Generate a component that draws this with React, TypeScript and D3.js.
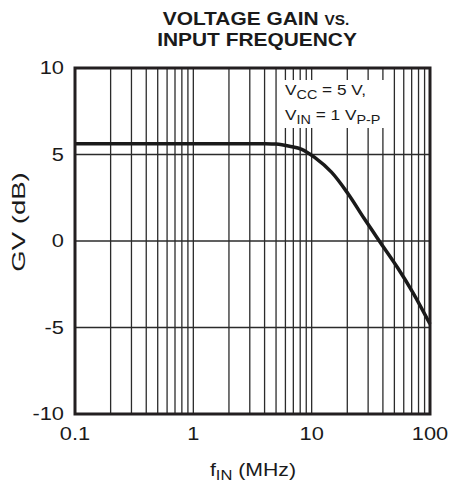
import React from 'react';
import * as d3 from 'd3';

const W = 450;
const H = 485;

const xDomain = [0.1, 100];
const yDomain = [-10, 10];
const xTickValues = [0.1, 1, 10, 100];
const xTickLabels = ['0.1', '1', '10', '100'];
const yTickValues = [-10, -5, 0, 5, 10];
const yTickLabels = ['-10', '-5', '0', '5', '10'];
const yGridValues = [-5, 0, 5];

const freqMHz = [0.1, 0.3, 1, 2, 3, 4, 5, 5.6, 6.5, 8.25, 10.6, 14.7, 20.3, 27.7, 38.3, 53.1, 72.1, 100];
const gainDb = [5.62, 5.62, 5.62, 5.62, 5.62, 5.62, 5.6, 5.56, 5.48, 5.3, 4.83, 3.98, 2.73, 1.31, -0.11, -1.53, -3.01, -4.8];

const FONT = '"Liberation Sans", Arial, Helvetica, sans-serif';
const INK = '#1a1a1a';

const plot = { left: 75, right: 430, top: 68, bottom: 414 };

function Txt(props: any) {
  const { x, y, sx = 1.18, rotate = 0, anchor = 'middle', size = 18, weight = 'normal', dy, children } = props;
  return (
    <text
      transform={`translate(${x},${y})${rotate ? ` rotate(${rotate})` : ''} scale(${sx},1)`}
      textAnchor={anchor}
      fontSize={size}
      fontWeight={weight}
      fontFamily={FONT}
      fill={INK}
      dy={dy}
    >
      {children}
    </text>
  );
}

export default function App() {
  const x = d3.scaleLog().domain(xDomain).range([plot.left, plot.right]);
  const y = d3.scaleLinear().domain(yDomain).range([plot.bottom, plot.top]);
  const xGrid = x.ticks().filter((v) => v > xDomain[0] * 1.0001 && v < xDomain[1] * 0.9999);

  const data = freqMHz.map((f, i) => [f, gainDb[i]] as [number, number]);
  const line = d3
    .line<[number, number]>()
    .x((d) => x(d[0]))
    .y((d) => y(d[1]))
    .curve(d3.curveCatmullRom.alpha(0.5));

  return (
    <svg width={W} height={H} style={{ position: 'absolute', left: 0, top: 0, background: '#fff' }}>
      {/* Title */}
      <Txt x={256} y={25} size={19} weight="bold" sx={1.1}>
        VOLTAGE GAIN <tspan fontSize={14}>VS.</tspan>
      </Txt>
      <Txt x={257} y={46} size={19} weight="bold" sx={1.1}>
        INPUT FREQUENCY
      </Txt>

      {/* Grid */}
      {xGrid.map((v) => (
        <line key={'xg' + v} x1={x(v)} x2={x(v)} y1={plot.top} y2={plot.bottom} stroke="#2b2b2b" strokeWidth={1.3} />
      ))}
      {yGridValues.map((v) => (
        <line key={'yg' + v} x1={plot.left} x2={plot.right} y1={y(v)} y2={y(v)} stroke="#2b2b2b" strokeWidth={1.3} />
      ))}

      {/* Annotation box */}
      <rect x={278} y={80} width={108} height={48} fill="#fff" />
      <Txt x={285} y={95} anchor="start" size={15} sx={1.15}>
        V<tspan fontSize={12.5} dy={4}>CC</tspan><tspan dy={-4}> = 5 V,</tspan>
      </Txt>
      <Txt x={285} y={120} anchor="start" size={15} sx={1.15}>
        V<tspan fontSize={12.5} dy={4}>IN</tspan><tspan dy={-4}> = 1 V</tspan><tspan fontSize={12.5} dy={4}>P-P</tspan>
      </Txt>

      {/* Curve */}
      <path d={line(data) || ''} fill="none" stroke={INK} strokeWidth={3.5} strokeLinejoin="round" />

      {/* Border */}
      <rect
        x={plot.left}
        y={plot.top}
        width={plot.right - plot.left}
        height={plot.bottom - plot.top}
        fill="none"
        stroke="#231f20"
        strokeWidth={3}
      />

      {/* Y tick labels */}
      {yTickValues.map((v, i) => (
        <Txt key={'yt' + v} x={64} y={y(v)} anchor="end" size={18.5} dy="0.35em">
          {yTickLabels[i]}
        </Txt>
      ))}

      {/* X tick labels */}
      {xTickValues.map((v, i) => (
        <Txt key={'xt' + v} x={x(v)} y={440} size={18.5}>
          {xTickLabels[i]}
        </Txt>
      ))}

      {/* Axis titles */}
      <Txt x={253} y={476} size={18}>
        f<tspan fontSize={14} dy={4}>IN</tspan><tspan dy={-4}> (MHz)</tspan>
      </Txt>
      <Txt x={25} y={222} rotate={-90} size={19} sx={1.45}>
        GV (dB)
      </Txt>
    </svg>
  );
}
